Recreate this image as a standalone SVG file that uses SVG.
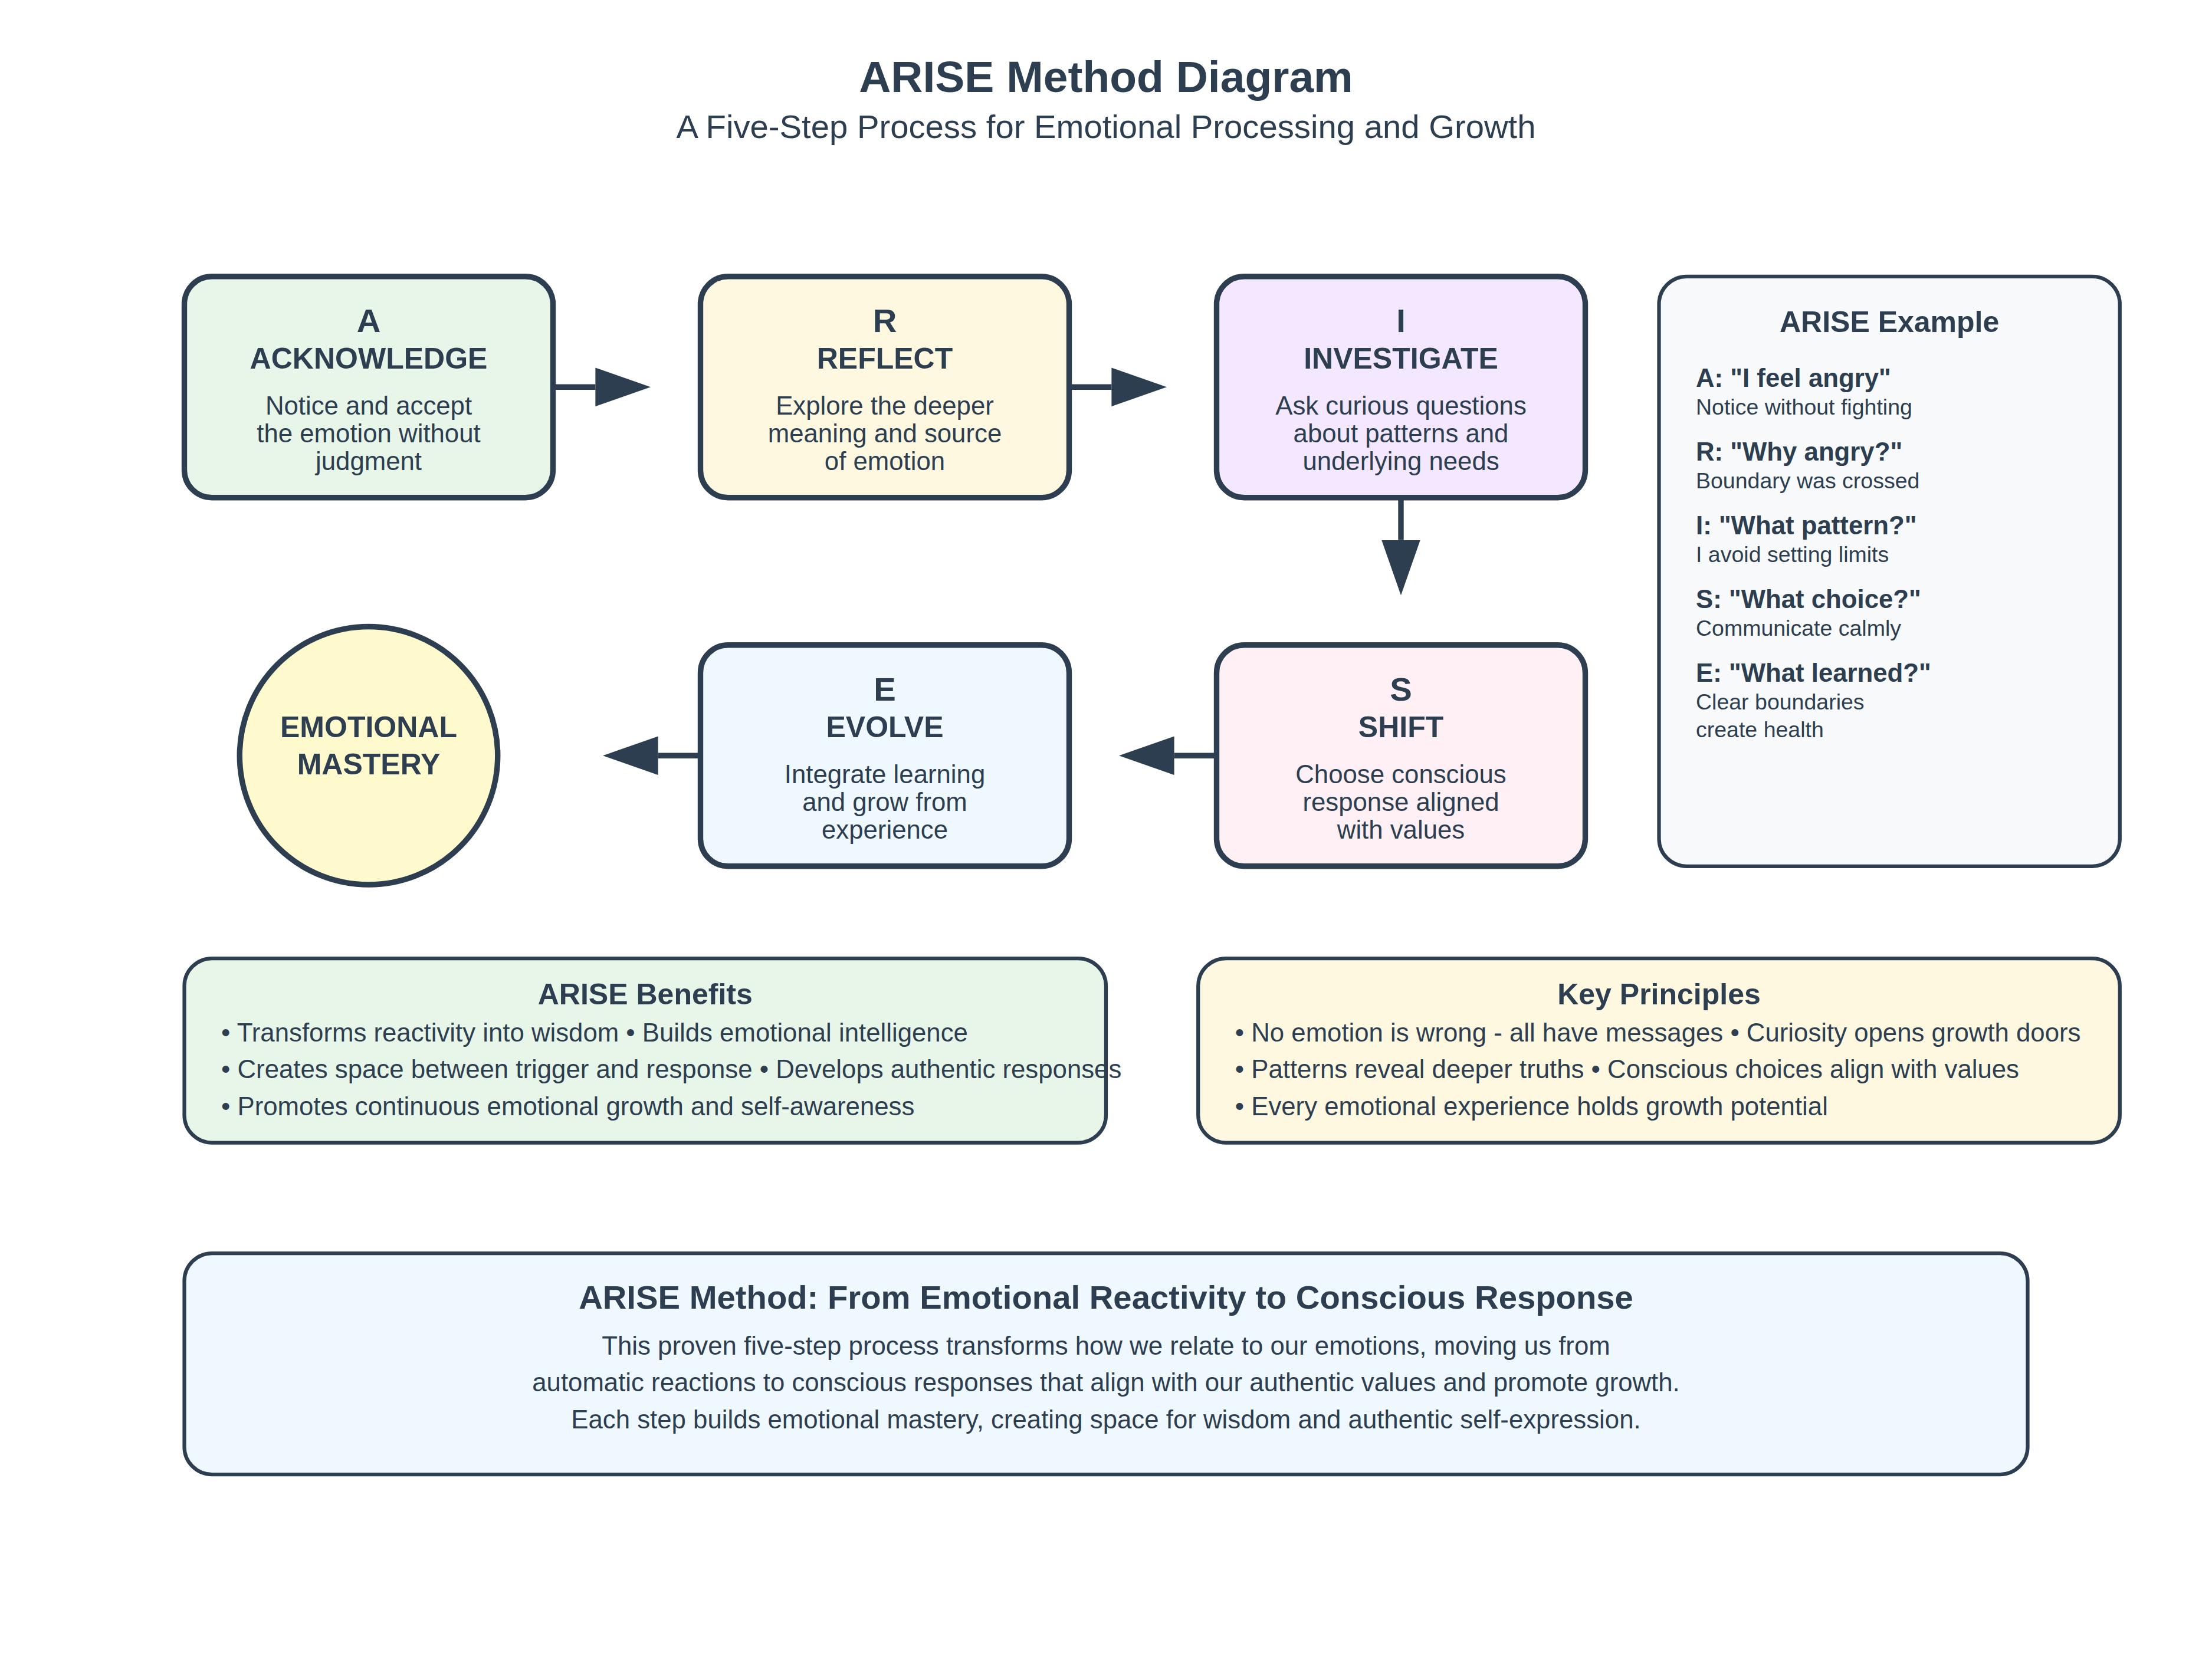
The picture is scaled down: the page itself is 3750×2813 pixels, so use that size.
<svg xmlns="http://www.w3.org/2000/svg" width="3750" height="2813" viewBox="0 0 3750 2813">
<defs>
<marker id="arrowhead" markerWidth="10" markerHeight="7" refX="0" refY="3.5" orient="auto">
<polygon points="0 0, 10 3.5, 0 7" fill="#2c3e50"/>
</marker>
<style>
text{font-family:"Liberation Sans",Arial,sans-serif;fill:#2c3e50}
.title{font-size:24px;font-weight:bold;text-anchor:middle}
.sub{font-size:18px;text-anchor:middle}
.step{stroke:#2c3e50;stroke-width:3}
.info{stroke:#2c3e50;stroke-width:2}
.letter{font-size:18px;font-weight:bold;text-anchor:middle}
.name{font-size:16px;font-weight:bold;text-anchor:middle}
.desc{font-size:14px;text-anchor:middle}
.hd{font-size:16px;font-weight:bold;text-anchor:middle}
.exq{font-size:14px;font-weight:bold}
.exa{font-size:12px}
.bul{font-size:14px}
.btitle{font-size:18px;font-weight:bold;text-anchor:middle}
.conn{stroke:#2c3e50;stroke-width:3;fill:none}
</style>
</defs>
<rect width="3750" height="2813" fill="#ffffff"/>
<g transform="scale(3.125)">
<g id="header">
<text class="title" x="600" y="50">ARISE Method Diagram</text>
<text class="sub" x="600" y="75">A Five-Step Process for Emotional Processing and Growth</text>
</g>
<g id="connectors">
<line class="conn" x1="300" y1="210" x2="323" y2="210" marker-end="url(#arrowhead)"/>
<line class="conn" x1="580" y1="210" x2="603" y2="210" marker-end="url(#arrowhead)"/>
<line class="conn" x1="760" y1="270" x2="760" y2="293" marker-end="url(#arrowhead)"/>
<line class="conn" x1="660" y1="410" x2="637" y2="410" marker-end="url(#arrowhead)"/>
<line class="conn" x1="380" y1="410" x2="357" y2="410" marker-end="url(#arrowhead)"/>
</g>
<g id="node-acknowledge">
<rect class="step" x="100" y="150" width="200" height="120" rx="15" fill="#e8f5e9"/>
<text class="letter" x="200" y="180">A</text>
<text class="name" x="200" y="200">ACKNOWLEDGE</text>
<text class="desc" x="200" y="225">Notice and accept</text>
<text class="desc" x="200" y="240">the emotion without</text>
<text class="desc" x="200" y="255">judgment</text>
</g>
<g id="node-reflect">
<rect class="step" x="380" y="150" width="200" height="120" rx="15" fill="#fff8e1"/>
<text class="letter" x="480" y="180">R</text>
<text class="name" x="480" y="200">REFLECT</text>
<text class="desc" x="480" y="225">Explore the deeper</text>
<text class="desc" x="480" y="240">meaning and source</text>
<text class="desc" x="480" y="255">of emotion</text>
</g>
<g id="node-investigate">
<rect class="step" x="660" y="150" width="200" height="120" rx="15" fill="#f3e8ff"/>
<text class="letter" x="760" y="180">I</text>
<text class="name" x="760" y="200">INVESTIGATE</text>
<text class="desc" x="760" y="225">Ask curious questions</text>
<text class="desc" x="760" y="240">about patterns and</text>
<text class="desc" x="760" y="255">underlying needs</text>
</g>
<g id="node-shift">
<rect class="step" x="660" y="350" width="200" height="120" rx="15" fill="#fff0f5"/>
<text class="letter" x="760" y="380">S</text>
<text class="name" x="760" y="400">SHIFT</text>
<text class="desc" x="760" y="425">Choose conscious</text>
<text class="desc" x="760" y="440">response aligned</text>
<text class="desc" x="760" y="455">with values</text>
</g>
<g id="node-evolve">
<rect class="step" x="380" y="350" width="200" height="120" rx="15" fill="#f0f8ff"/>
<text class="letter" x="480" y="380">E</text>
<text class="name" x="480" y="400">EVOLVE</text>
<text class="desc" x="480" y="425">Integrate learning</text>
<text class="desc" x="480" y="440">and grow from</text>
<text class="desc" x="480" y="455">experience</text>
</g>
<g id="node-mastery">
<circle class="step" cx="200" cy="410" r="70" fill="#fffacd"/>
<text class="name" x="200" y="400">EMOTIONAL</text>
<text class="name" x="200" y="420">MASTERY</text>
</g>
<g id="example">
<rect class="info" x="900" y="150" width="250" height="320" rx="15" fill="#f8f9fa"/>
<text class="hd" x="1025" y="180">ARISE Example</text>
<text class="exq" x="920" y="210">A: "I feel angry"</text>
<text class="exa" x="920" y="225">Notice without fighting</text>
<text class="exq" x="920" y="250">R: "Why angry?"</text>
<text class="exa" x="920" y="265">Boundary was crossed</text>
<text class="exq" x="920" y="290">I: "What pattern?"</text>
<text class="exa" x="920" y="305">I avoid setting limits</text>
<text class="exq" x="920" y="330">S: "What choice?"</text>
<text class="exa" x="920" y="345">Communicate calmly</text>
<text class="exq" x="920" y="370">E: "What learned?"</text>
<text class="exa" x="920" y="385">Clear boundaries</text>
<text class="exa" x="920" y="400">create health</text>
</g>
<g id="benefits">
<rect class="info" x="100" y="520" width="500" height="100" rx="15" fill="#e8f5e9"/>
<text class="hd" x="350" y="545">ARISE Benefits</text>
<text class="bul" x="120" y="565">• Transforms reactivity into wisdom • Builds emotional intelligence</text>
<text class="bul" x="120" y="585">• Creates space between trigger and response • Develops authentic responses</text>
<text class="bul" x="120" y="605">• Promotes continuous emotional growth and self-awareness</text>
</g>
<g id="principles">
<rect class="info" x="650" y="520" width="500" height="100" rx="15" fill="#fff8e1"/>
<text class="hd" x="900" y="545">Key Principles</text>
<text class="bul" x="670" y="565">• No emotion is wrong - all have messages • Curiosity opens growth doors</text>
<text class="bul" x="670" y="585">• Patterns reveal deeper truths • Conscious choices align with values</text>
<text class="bul" x="670" y="605">• Every emotional experience holds growth potential</text>
</g>
<g id="summary">
<rect class="info" x="100" y="680" width="1000" height="120" rx="15" fill="#f0f8ff"/>
<text class="btitle" x="600" y="710">ARISE Method: From Emotional Reactivity to Conscious Response</text>
<text class="desc" x="600" y="735">This proven five-step process transforms how we relate to our emotions, moving us from</text>
<text class="desc" x="600" y="755">automatic reactions to conscious responses that align with our authentic values and promote growth.</text>
<text class="desc" x="600" y="775">Each step builds emotional mastery, creating space for wisdom and authentic self-expression.</text>
</g>
</g>
</svg>
